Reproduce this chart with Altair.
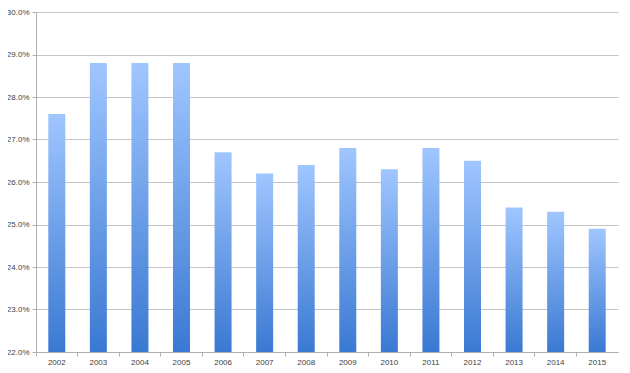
import altair as alt
import pandas as pd

years = ["2002", "2003", "2004", "2005", "2006", "2007", "2008",
         "2009", "2010", "2011", "2012", "2013", "2014", "2015"]
rates = [0.276, 0.288, 0.288, 0.288, 0.267, 0.262, 0.264,
         0.268, 0.263, 0.268, 0.265, 0.254, 0.253, 0.249]
y_ticks = [0.22, 0.23, 0.24, 0.25, 0.26, 0.27, 0.28, 0.29, 0.30]
y_base = 0.22

df = pd.DataFrame({"year": years, "rate": rates})

grad = alt.Gradient(
    gradient="linear",
    stops=[alt.GradientStop(color="#a0c6ff", offset=0),
           alt.GradientStop(color="#3a79d2", offset=1)],
    x1=0, x2=0, y1=0, y2=1,
)

chart = alt.Chart(df).mark_bar(size=17, color=grad).encode(
    x=alt.X("year:N", sort=years,
            scale=alt.Scale(paddingInner=0, paddingOuter=0),
            axis=alt.Axis(title=None, labelAngle=0, bandPosition=0,
                          ticks=True, tickSize=4, tickColor="#b0b0b0",
                          domain=True, domainColor="#b0b0b0",
                          labelFont="Liberation Sans", labelFontSize=8,
                          labelColor="#404040", labelPadding=2, grid=False)),
    y=alt.Y("rate:Q",
            scale=alt.Scale(domain=[0.22, 0.30], nice=False, zero=False),
            axis=alt.Axis(title=None, values=y_ticks, format=".1%",
                          ticks=True, tickSize=4, tickColor="#b0b0b0",
                          domain=True, domainColor="#b0b0b0",
                          gridColor="#c4c4c4", gridWidth=1,
                          labelFont="Liberation Sans", labelFontSize=8,
                          labelColor="#404040", labelPadding=3)),
    y2=alt.datum(y_base),
).properties(
    width=582,
    height=340,
    autosize=alt.AutoSizeParams(type="none"),
    padding={"left": 28, "top": 4, "right": 4, "bottom": 13},
).configure_view(stroke=None)

chart.save("out.html", embed_options={"renderer": "svg", "actions": False})
